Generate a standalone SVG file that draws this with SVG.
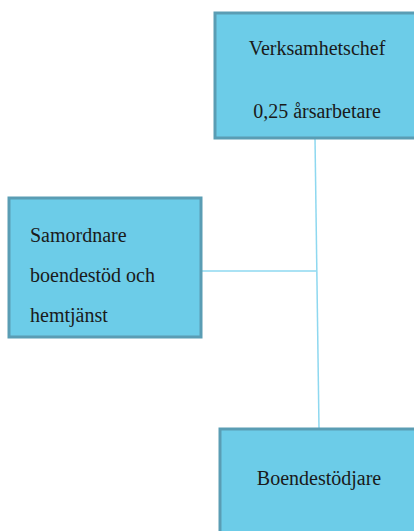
<svg xmlns="http://www.w3.org/2000/svg" width="414" height="531" viewBox="0 0 414 531">
<style>
.box{fill:#6ccce8;stroke:#5a9db4;stroke-width:3}
.t{font-size:20px;fill:#1a1a1a}
.c{stroke:#8ed8f0;stroke-width:1.5;fill:none}
</style>
<rect width="414" height="531" fill="#ffffff"/>
<g id="connectors">
<line class="c" x1="315" y1="138" x2="319" y2="428"/>
<line class="c" x1="202" y1="271" x2="316" y2="271"/>
</g>
<g font-family="Liberation Serif, Times New Roman, serif">
<g id="verksamhetschef">
<rect class="box" x="215" y="13" width="210" height="125"/>
<text class="t" x="317" y="55" text-anchor="middle">Verksamhetschef</text>
<text class="t" x="317" y="118" text-anchor="middle">0,25 årsarbetare</text>
</g>
<g id="samordnare">
<rect class="box" x="9" y="198" width="192" height="139"/>
<text class="t" x="30" y="242">Samordnare</text>
<text class="t" x="30" y="282">boendestöd och</text>
<text class="t" x="30" y="322">hemtjänst</text>
</g>
<g id="boendestodjare">
<rect class="box" x="220" y="429" width="205" height="110"/>
<text class="t" x="319" y="485" text-anchor="middle">Boendestödjare</text>
</g>
</g>
</svg>
